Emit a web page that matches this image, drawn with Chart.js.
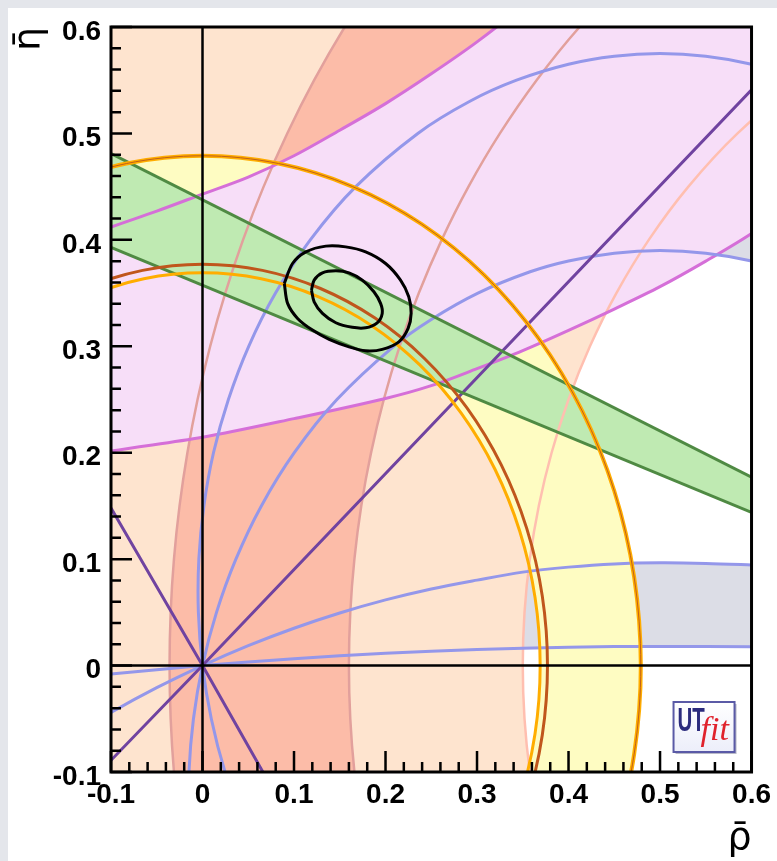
<!DOCTYPE html>
<html>
<head>
<meta charset="utf-8">
<script src="https://cdn.jsdelivr.net/npm/chart.js@4.4.0/dist/chart.umd.min.js"></script>
<style>
  html, body { margin: 0; padding: 0; background: #fff; }
</style>
</head>
<body>
<canvas id="utfit" width="777" height="861"></canvas>
<script>
// tick labels
const rhoTickLabels = ['-0.1', '0', '0.1', '0.2', '0.3', '0.4', '0.5', '0.6'];
const etaTickLabels = ['-0.1', '0', '0.1', '0.2', '0.3', '0.4', '0.5', '0.6'];

// |Vub/Vcb| ring around the origin (outer edge, inner edge, exclusive edge)
const vubOuter = [[0.4148,-0.2395],[0.4501,-0.1638],[0.4717,-0.0832],[0.479,0],[0.4717,0.0832],[0.4501,0.1638],[0.4148,0.2395],[0.3669,0.3079],[0.3079,0.3669],[0.2395,0.4148],[0.1638,0.4501],[0.0832,0.4717],[0,0.479],[-0.0832,0.4717],[-0.1638,0.4501],[-0.2395,0.4148]];
const vubInner = [[0.3196,-0.1845],[0.3467,-0.1262],[0.3634,-0.0641],[0.369,0],[0.3634,0.0641],[0.3467,0.1262],[0.3196,0.1845],[0.2827,0.2372],[0.2372,0.2827],[0.1845,0.3196],[0.1262,0.3467],[0.0641,0.3634],[0,0.369],[-0.0641,0.3634],[-0.1262,0.3467],[-0.1845,0.3196]];
const vubExcl = [[0.3265,-0.1885],[0.3543,-0.1289],[0.3713,-0.0655],[0.377,0],[0.3713,0.0655],[0.3543,0.1289],[0.3265,0.1885],[0.2888,0.2423],[0.2423,0.2888],[0.1885,0.3265],[0.1289,0.3543],[0.0655,0.3713],[0,0.377],[-0.0655,0.3713],[-0.1289,0.3543],[-0.1885,0.3265]];

// Delta md band edge (light) and its off-plot outer side
const dmdEdge = [[0.3815,-0.2],[0.3675,-0.15],[0.3577,-0.1],[0.3519,-0.05],[0.35,0],[0.3519,0.05],[0.3577,0.1],[0.3675,0.15],[0.3815,0.2],[0.4,0.25],[0.4234,0.3],[0.4523,0.35],[0.4877,0.4],[0.531,0.45],[0.5847,0.5],[0.6536,0.55],[0.75,0.6]];
const dmdOuter = [[0.75,0.8],[-0.3,0.8],[-0.3,-0.3],[0.3815,-0.3]];

// Delta ms / Delta md band (dark)
const dmsLeft = [[-0.0251,-0.15],[-0.0312,-0.1],[-0.0348,-0.05],[-0.036,0],[-0.0348,0.05],[-0.0312,0.1],[-0.0251,0.15],[-0.0165,0.2],[-0.0054,0.25],[0.0084,0.3],[0.0249,0.35],[0.0443,0.4],[0.0668,0.45],[0.0926,0.5],[0.122,0.55],[0.1554,0.6],[0.1933,0.65],[0.2363,0.7]];
const dmsRight = [[0.1735,-0.15],[0.166,-0.1],[0.1615,-0.05],[0.16,0],[0.1615,0.05],[0.166,0.1],[0.1735,0.15],[0.1842,0.2],[0.1981,0.25],[0.2154,0.3],[0.2364,0.35],[0.2614,0.4],[0.2907,0.45],[0.325,0.5],[0.3651,0.55],[0.4121,0.6],[0.4679,0.65],[0.5357,0.7]];

// epsilon K hyperbolas
const epsUpper = [[-0.2,0.38],[-0.15,0.396],[-0.1,0.412],[-0.05,0.427],[0,0.443],[0.05,0.459],[0.1,0.479],[0.15,0.503],[0.2,0.528],[0.25,0.556],[0.3,0.586],[0.35,0.62],[0.4,0.66],[0.45,0.705],[0.5,0.755]];
const epsLower = [[-0.2,0.186],[-0.1,0.2015],[0,0.2145],[0.1,0.232],[0.2,0.251],[0.25,0.263],[0.3,0.279],[0.35,0.296],[0.4,0.315],[0.45,0.335],[0.5,0.356],[0.55,0.38],[0.6,0.406],[0.7,0.465],[0.8,0.53],[0.9,0.61]];

// alpha arcs through the origin
const alphaA = [[0.0456,-0.15],[0.0246,-0.1],[0.0096,-0.05],[0,0],[-0.0045,0.05],[-0.004,0.1],[0.0015,0.15],[0.012,0.2],[0.0283,0.25],[0.0505,0.3],[0.0798,0.35],[0.1178,0.4],[0.1675,0.45],[0.2353,0.5],[0.2917,0.53],[0.3432,0.55],[0.4,0.565],[0.45,0.5725],[0.5,0.575],[0.55,0.5725],[0.6,0.565],[0.65,0.552],[0.7,0.534]];
const alphaB = [[-0.0149,-0.15],[-0.0148,-0.1],[-0.0099,-0.05],[0,0],[0.0153,0.05],[0.0365,0.1],[0.0643,0.15],[0.1003,0.2],[0.1469,0.25],[0.209,0.3],[0.2496,0.325],[0.301,0.35],[0.358,0.37],[0.4,0.3802],[0.45,0.3875],[0.5,0.39],[0.55,0.3875],[0.6,0.3802],[0.65,0.3677],[0.7,0.3496]];
const alphaC = [[-0.15,-0.0699],[-0.1,-0.0441],[-0.05,-0.0208],[0,0],[0.05,0.0187],[0.1,0.0351],[0.15,0.0494],[0.2,0.0617],[0.25,0.072],[0.3,0.0803],[0.35,0.0878],[0.4,0.0925],[0.45,0.0955],[0.5,0.0965],[0.55,0.096],[0.6,0.0946],[0.65,0.093]];
const alphaD = [[-0.15,-0.0125],[-0.1,-0.008],[0,0],[0.1,0.0065],[0.2,0.0115],[0.3,0.0151],[0.4,0.0173],[0.5,0.018],[0.6,0.0176],[0.65,0.0172]];

// gamma rays
const gammaUp = [[-0.1,-0.089],[0,0],[0.6,0.541]];
const gammaDown = [[-0.1,0.148],[0,0],[0.066,-0.1]];

// sin 2beta lines
const betaUpper = [[-0.1,0.481],[0.6,0.177]];
const betaLower = [[-0.1,0.393],[0.6,0.144]];

// fit contours
const fit95 = [[0.0894,0.3591],[0.0984,0.3778],[0.113,0.3887],[0.1348,0.3941],[0.1565,0.3934],[0.1783,0.3887],[0.2001,0.3778],[0.2164,0.3622],[0.2254,0.3465],[0.228,0.3309],[0.2247,0.3168],[0.2146,0.3042],[0.1964,0.2971],[0.1783,0.2958],[0.1601,0.2995],[0.1384,0.3065],[0.1202,0.3152],[0.1039,0.3262],[0.093,0.3403],[0.0894,0.3591]];
const fit68 = [[0.1191,0.3528],[0.122,0.3622],[0.1311,0.369],[0.1457,0.3709],[0.1601,0.369],[0.1746,0.3622],[0.1873,0.3512],[0.1946,0.3403],[0.1964,0.3309],[0.1909,0.3221],[0.1783,0.3174],[0.1637,0.3178],[0.1457,0.3221],[0.1311,0.3309],[0.122,0.3418],[0.1191,0.3528]];

// axes through the origin
const rhoAxis = [[-0.1,0],[0.6,0]];
const etaAxis = [[0,-0.1],[0,0.6]];

const pts = arr => arr.map(([x, y]) => ({ x, y }));
const rev = arr => arr.slice().reverse();

function area(data, color, order, tension = 0.33) {
  return { data: pts(data), fill: 'shape', backgroundColor: color, borderColor: 'rgba(0,0,0,0)',
           borderWidth: 0, pointRadius: 0, order, tension };
}
function curve(data, color, width, order, tension = 0.33) {
  return { data: pts(data), fill: false, borderColor: color, borderWidth: width,
           pointRadius: 0, order, tension };
}

const datasets = [
  // filled regions, bottom first
  area(alphaA.concat(rev(alphaB)), '#dcdde6', 100),
  area(alphaC.concat(rev(alphaD)), '#dcdde6', 99),
  area(dmdEdge.concat(dmdOuter), '#fee4cf', 98),
  area(dmsLeft.concat(rev(dmsRight)), '#fcbca8', 97),
  area(vubOuter.concat(rev(vubInner)), '#fefcc2', 96),
  area(epsLower.concat(rev(epsUpper)), '#f7def8', 95),
  area(betaUpper.concat(rev(betaLower)), '#bfeab2', 94, 0),
  // boundary lines
  curve(dmdEdge, '#ffbfb0', 2.5, 50),
  curve(dmsLeft, '#e2a09c', 2.5, 49),
  curve(dmsRight, '#e2a09c', 2.5, 48),
  curve(epsUpper, '#d56fd8', 3, 47),
  curve(epsLower, '#d56fd8', 3, 46),
  curve(alphaA, '#9497ea', 3, 45),
  curve(alphaB, '#9497ea', 3, 44),
  curve(alphaC, '#9497ea', 3, 43),
  curve(alphaD, '#9497ea', 3, 42),
  curve(gammaUp, '#7043a0', 3, 41, 0),
  curve(gammaDown, '#7043a0', 3, 40, 0),
  curve(betaUpper, '#4f8a43', 3, 39, 0),
  curve(betaLower, '#4f8a43', 3, 38, 0),
  curve(vubInner, '#ffad00', 3, 37),
  curve(vubExcl, '#c0561c', 3, 36),
  curve(vubOuter, '#ffad00', 4, 35),
  curve(vubOuter, '#c0601a', 1, 34),
  curve(rhoAxis, '#000', 2.5, 20, 0),
  curve(etaAxis, '#000', 2.5, 19, 0),
  curve(fit95, '#000', 3, 10, 0.3),
  curve(fit68, '#000', 3, 9, 0.3)
];

const font = '"Liberation Sans", Arial, sans-serif';

const rootFrame = {
  id: 'rootFrame',
  beforeDraw(chart) {
    const { ctx, width, height } = chart;
    ctx.save();
    ctx.fillStyle = '#ffffff';
    ctx.fillRect(0, 0, width, height);
    ctx.fillStyle = '#e4e6eb';
    ctx.fillRect(0, 0, width, 8);
    ctx.fillRect(0, 0, 8, height);
    ctx.restore();
  },
  afterDatasetsDraw(chart) {
    const { ctx, chartArea: a, scales: { x, y } } = chart;
    ctx.save();
    // ROOT style inner ticks, 5 divisions per label
    ctx.strokeStyle = '#000';
    ctx.lineWidth = 2.5;
    ctx.beginPath();
    for (let i = 0; i <= 35; i++) {
      const v = -0.1 + i * 0.02;
      const len = i % 5 === 0 ? 21 : 10;
      const px = x.getPixelForValue(v);
      ctx.moveTo(px, a.bottom);
      ctx.lineTo(px, a.bottom - len);
      const py = y.getPixelForValue(v);
      ctx.moveTo(a.left, py);
      ctx.lineTo(a.left + len, py);
    }
    ctx.stroke();
    ctx.lineWidth = 3;
    ctx.strokeRect(a.left, a.top, a.right - a.left, a.bottom - a.top);

    // UTfit logo
    const bx = a.right - 78, by = a.bottom - 70, bw = 61, bh = 50;
    ctx.fillStyle = '#b9bac8';
    ctx.fillRect(bx + 2, by + 2, bw, bh);
    const g = ctx.createLinearGradient(bx, by, bx, by + bh);
    g.addColorStop(0, '#ffffff');
    g.addColorStop(1, '#eceefa');
    ctx.fillStyle = g;
    ctx.fillRect(bx, by, bw, bh);
    ctx.strokeStyle = '#5a5aa6';
    ctx.lineWidth = 2;
    ctx.strokeRect(bx, by, bw, bh);
    ctx.save();
    ctx.translate(bx + 4, by + 29);
    ctx.scale(0.62, 1);
    ctx.fillStyle = '#2b2b7d';
    ctx.font = 'bold 33px ' + font;
    ctx.fillText('UT', 0, 0);
    ctx.restore();
    ctx.fillStyle = '#e0222c';
    ctx.font = 'italic 34px "Liberation Serif", serif';
    ctx.fillText('fit', bx + 27, by + 38);
    ctx.restore();
  }
};

const tickFont = { family: font, weight: 'bold', size: 28 };
const titleFont = { family: '"DejaVu Sans", sans-serif', size: 38, lineHeight: 1.15 };

new Chart(document.getElementById('utfit'), {
  type: 'line',
  data: { datasets },
  options: {
    responsive: false,
    animation: false,
    events: [],
    layout: { padding: { top: 27, right: 23, bottom: 0, left: 8 } },
    elements: { point: { radius: 0 }, line: { capBezierPoints: false, borderJoinStyle: 'round' } },
    plugins: { legend: { display: false }, tooltip: { enabled: false } },
    scales: {
      x: {
        type: 'linear', min: -0.1, max: 0.6,
        afterFit: s => { s.height = 89; },
        grid: { display: false, drawTicks: false },
        border: { display: false },
        ticks: {
          stepSize: 0.1, padding: 6, color: '#000', font: tickFont, maxRotation: 0, autoSkip: false,
          callback: v => rhoTickLabels[Math.round((v + 0.1) * 10)]
        },
        title: { display: true, text: '\u03C1\u0304', align: 'end', color: '#000', font: titleFont, padding: { top: 0, bottom: 0 } }
      },
      y: {
        type: 'linear', min: -0.1, max: 0.6,
        afterFit: s => { s.width = 103; },
        grid: { display: false, drawTicks: false },
        border: { display: false },
        ticks: {
          stepSize: 0.1, padding: 10, labelOffset: 5, color: '#000', font: tickFont, autoSkip: false,
          callback: v => etaTickLabels[Math.round((v + 0.1) * 10)]
        },
        title: { display: true, text: '\u03B7\u0304', align: 'end', color: '#000', font: titleFont, padding: { top: 0, bottom: 0 } }
      }
    }
  },
  plugins: [rootFrame]
});
</script>
</body>
</html>
